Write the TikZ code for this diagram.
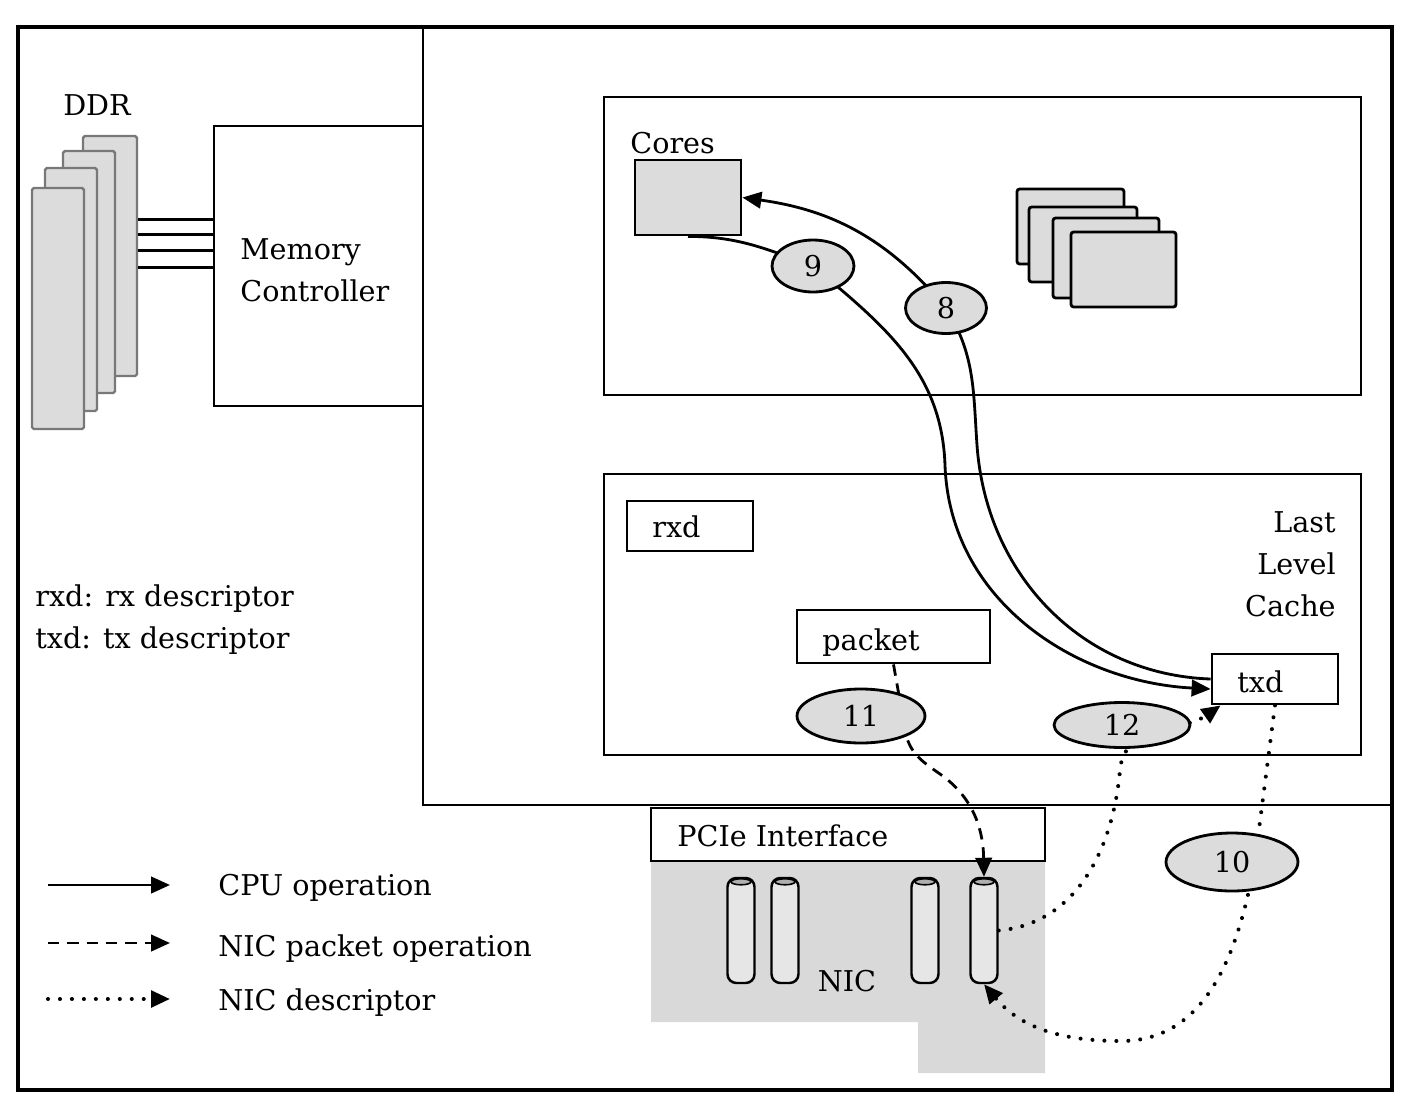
\documentclass[tikz,border=0pt]{standalone}
\usepackage{fontspec}
\setmainfont{DejaVu Serif}
\usetikzlibrary{arrows.meta,shapes.geometric,fit}
\definecolor{gfill}{RGB}{220,220,220}
\definecolor{nicgray}{RGB}{217,217,217}
\definecolor{ddrline}{RGB}{120,120,120}
\definecolor{cylfill}{RGB}{230,230,230}
\definecolor{cyltop}{RGB}{175,175,175}
\begin{document}
\begin{tikzpicture}[x=0.02cm,y=-0.02cm,
  font=\fontsize{16.3}{24}\selectfont,
  box/.style={draw, line width=1.6pt, inner sep=0pt},
  gbox/.style={box, fill=gfill},
  ddrbox/.style={draw=ddrline, line width=1.4pt, fill=gfill, inner sep=0pt, rounded corners=1pt},
  stackbox/.style={box, fill=gfill, rounded corners=1.5pt},
  cylbox/.style={draw, line width=1.4pt, fill=cylfill, rounded corners=5pt, inner sep=0pt,
     minimum width=0.54cm, minimum height=2.1cm},
  numel/.style={ellipse, draw, line width=1.6pt, fill=gfill, inner sep=0pt},
  txt/.style={inner sep=0pt, anchor=base west},
  tip/.style={-{Triangle[length=0.38cm,width=0.33cm]}},
  cpuop/.style={tip, line width=1.6pt},
  pktop/.style={tip, line width=1.6pt, dash pattern=on 6.5pt off 4.5pt},
  descop/.style={tip, line width=2.3pt, line cap=round, dash pattern=on 0.01pt off 6.8pt}]
\useasboundingbox (0,0) rectangle (1418,1110);

% frames
\node[box, line width=2.1pt, fit={(18,27) (1392,1090)}] (frame) {};
\node[box, fit={(423,27) (1392,805)}] (cpu) {};
\node[box, fill=white, fit={(214,126) (423,406)}] (mc) {};

% DDR modules
\node[ddrbox, fit={(83,136) (137,376)}] (ddr1) {};
\node[ddrbox, fit={(63,151) (115,393)}] (ddr2) {};
\node[ddrbox, fit={(45,168) (97,411)}] (ddr3) {};
\node[ddrbox, fit={(32,188) (84,429)}] (ddr4) {};
\coordinate (h1) at (0,219);
\coordinate (h2) at (0,234);
\coordinate (h3) at (0,250);
\coordinate (h4) at (0,267);
\foreach \h in {h1,h2,h3,h4}
  \draw[line width=1.7pt] (ddr1.east |- \h) -- (mc.west |- \h);

% cores
\node[box, fit={(604,97) (1361,395)}] (coresbox) {};
\node[gbox, fit={(635,160) (741,235)}] (core) {};
\node[stackbox, fit={(1017,189) (1124,264)}] (sc1) {};
\node[stackbox, fit={(1029,207) (1137,282)}] (sc2) {};
\node[stackbox, fit={(1053,218) (1159,298)}] (sc3) {};
\node[stackbox, fit={(1071,232) (1176,307)}] (sc4) {};

% last level cache
\node[box, fit={(604,474) (1361,755)}] (llc) {};
\node[box, fit={(627,501) (753,551)}] (rxd) {};
\node[box, fill=white, fit={(797,610) (990,663)}] (packet) {};
\node[box, fill=white, fit={(1212,654) (1338,704)}] (txd) {};

% NIC
\fill[nicgray] (651,861) -- (1045,861) -- (1045,1073) -- (918,1073) -- (918,1022) -- (651,1022) -- cycle;
\node[box, fill=white, fit={(651,808) (1045,861)}] (pcie) {};
\node[cylbox] (cyl1) at (741,930.5) {};
\node[cylbox] (cyl2) at (785,930.5) {};
\node[cylbox] (cyl3) at (925,930.5) {};
\node[cylbox] (cyl4) at (984,930.5) {};
\foreach \c in {cyl1,cyl2,cyl3,cyl4}
  \draw[fill=cyltop, line width=0.9pt] ([yshift=-0.1cm]\c.north) ellipse [x radius=0.2cm, y radius=0.06cm];

% waypoints
\coordinate (w9a) at (813,266);
\coordinate (w9b) at (945,465);
\coordinate (w8a) at (977,445);
\coordinate (w8b) at (946,308);
\coordinate (w11a) at (906,735);
\coordinate (w11b) at (940,774);
\coordinate (w12a) at (1120,770);
\coordinate (w10a) at (1255,860);
\coordinate (w10b) at (1121,1041);

% CPU operations
\draw[cpuop] (core.south) to[out=0,in=160] (w9a) to[out=-40,in=92] (w9b)
   to[out=-88,in=177] ([yshift=-0.2cm]txd.west);
\draw[cpuop] (txd.west) to[out=178,in=-86] (w8a) to[out=94,in=-58] (w8b)
   to[out=130,in=-8] (core.east);
% NIC packet operation
\draw[pktop] (packet.south) -- (w11a) to[out=-75,in=145] (w11b) to[out=-35,in=91] (cyl4.north);
% NIC descriptor
\draw[descop] (cyl4.east) to[out=5,in=-95] (w12a) to[out=85,in=-145] ([xshift=0.2cm]txd.south west);
\draw[descop] (txd.south) -- (w10a) to[out=-100,in=0] (w10b) to[out=180,in=-50] (cyl4.south);

% step ellipses
\node[numel, minimum width=1.64cm, minimum height=1.04cm] (e9) at (813,266) {9};
\node[numel, minimum width=1.62cm, minimum height=1.02cm] (e8) at (946,308) {8};
\node[numel, minimum width=2.56cm, minimum height=1.08cm] (e11) at (861,716) {11};
\node[numel, minimum width=2.72cm, minimum height=0.9cm] (e12) at (1122,725) {12};
\node[numel, minimum width=2.64cm, minimum height=1.16cm] (e10) at (1232,862) {10};

% texts
\node[inner sep=0pt, anchor=base] (tddr) at (97,115) {DDR};
\node[txt] (tmc1) at (240,259) {Memory};
\node[txt] (tmc2) at (240,301) {Controller};
\node[txt] (tcores) at (630,153) {Cores};
\node[txt] (trxd) at (652,537) {rxd};
\node[txt] (tpacket) at (822,650) {packet};
\node[txt] (ttxd) at (1237,692) {txd};
\node[inner sep=0pt, anchor=base east] (tllc1) at (1336,532) {Last};
\node[inner sep=0pt, anchor=base east] (tllc2) at (1336,574) {Level};
\node[inner sep=0pt, anchor=base east] (tllc3) at (1336,616) {Cache};
\node[txt] (tdef1) at (35,606) {rxd: rx descriptor};
\node[txt] (tdef2) at (35,648) {txd: tx descriptor};
\node[txt] (tpcie) at (677,846) {PCIe Interface};
\node[inner sep=0pt, anchor=base] (tnic) at (847,991) {NIC};

% legend
\coordinate (la1) at (48,885);
\coordinate (lb1) at (170,885);
\coordinate (la2) at (48,943);
\coordinate (lb2) at (170,943);
\coordinate (la3) at (48,999);
\coordinate (lb3) at (170,999);
\draw[cpuop] (la1) -- (lb1);
\draw[pktop] (la2) -- (lb2);
\draw[descop] (la3) -- (lb3);
\node[txt] (leg1) at (218,895) {CPU operation};
\node[txt] (leg2) at (218,956) {NIC packet operation};
\node[txt] (leg3) at (218,1010) {NIC descriptor};
\end{tikzpicture}
\end{document}
